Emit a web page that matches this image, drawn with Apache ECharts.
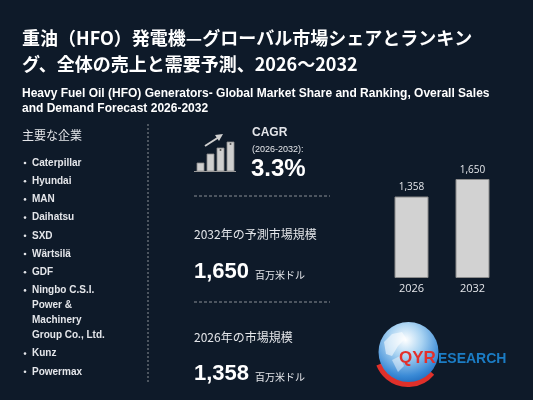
<!DOCTYPE html>
<html>
<head>
<meta charset="utf-8">
<script src="https://cdn.jsdelivr.net/npm/echarts@6/dist/echarts.min.js"></script>
<style>
  html, body { margin: 0; padding: 0; background: #0e1a29; }
  #chart { width: 533px; height: 400px; }
</style>
</head>
<body>
<div id="chart"></div>
<script>
const years = ["2026", "2032"];
const sales = [1358, 1650];
const companies = [
    ["Caterpillar"],
    ["Hyundai"],
    ["MAN"],
    ["Daihatsu"],
    ["SXD"],
    ["Wärtsilä"],
    ["GDF"],
    ["Ningbo C.S.I.", "Power &", "Machinery", "Group Co., Ltd."],
    ["Kunz"],
    ["Powermax"]
];
const cagr = "3.3%";
const cagrPeriod = "(2026-2032):";
const unit = "百万米ドル";

const titleJa = ["重油（HFO）発電機—グローバル市場シェアとランキン", "グ、全体の売上と需要予測、2026～2032"];
const titleEn = ["Heavy Fuel Oil (HFO) Generators- Global Market Share and Ranking, Overall Sales", "and Demand Forecast 2026-2032"];

const fmt = v => v.toLocaleString("en-US");
const jaFont = '"Noto Sans CJK JP", "Noto Sans", sans-serif';
const enFont = '"Liberation Sans", Arial, sans-serif';
const light = "#e4e6ea";

var chart = echarts.init(document.getElementById("chart"));

// 会社リスト
const listItems = [];
let y = 163;
companies.forEach(lines => {
    listItems.push({
        type: "circle", shape: { cx: 25, cy: y, r: 1.3 },
        style: { fill: light }
    });
    lines.forEach((line, i) => {
        listItems.push({
            type: "text", x: 32, y: y + i * 15,
            style: { text: line, fill: light, font: "bold 10px " + enFont, verticalAlign: "middle" }
        });
    });
    y += 18.2 + (lines.length - 1) * 15;
});

// CAGR アイコン
const iconBars = [[197, 163], [207, 154], [217, 148], [227, 142]];
const icon = iconBars.map(b => ({
    type: "rect", shape: { x: b[0], y: b[1], width: 7, height: 171 - b[1] },
    style: { fill: "#cfcfcf", stroke: "#8a8a8a", lineWidth: 0.8 }
}));
icon.push(
    { type: "line", shape: { x1: 194, y1: 171.5, x2: 236, y2: 171.5 }, style: { stroke: "#9a9a9a", lineWidth: 1.2 } },
    { type: "line", shape: { x1: 205, y1: 146, x2: 219, y2: 137 }, style: { stroke: "#cfcfcf", lineWidth: 2 } },
    { type: "polygon", shape: { points: [[223, 134], [215, 135], [219, 141]] }, style: { fill: "#cfcfcf" } },
    { type: "circle", shape: { cx: 220.5, cy: 150, r: 1 }, style: { fill: "#555" } },
    { type: "circle", shape: { cx: 230.5, cy: 144, r: 1 }, style: { fill: "#555" } }
);

const txt = (text, x, y, font, fill) => ({
    type: "text", x: x, y: y,
    style: { text: text, font: font, fill: fill || light, verticalAlign: "middle" }
});

const dash = (x1, y1, x2, y2, d) => ({
    type: "line", shape: { x1: x1, y1: y1, x2: x2, y2: y2 },
    style: { stroke: "#8a8f96", lineWidth: 1, lineDash: d }
});

chart.setOption({
    backgroundColor: "#0e1a29",
    animation: false,
    grid: { left: 381, right: 30, top: 179, bottom: 122 },
    xAxis: {
        type: "category",
        data: years,
        axisLine: { show: false },
        axisTick: { show: false },
        axisLabel: { color: light, fontSize: 11, fontFamily: "Open Sans", margin: 5 }
    },
    yAxis: { type: "value", min: 0, max: 1650, show: false },
    series: [{
        type: "bar",
        data: sales,
        barWidth: 34,
        itemStyle: { color: "#d2d2d2", borderColor: "#8c8c8c", borderWidth: 1 },
        label: {
            show: true, position: "top", distance: 4,
            color: light, fontSize: 10, fontFamily: "Open Sans",
            formatter: p => fmt(p.value)
        }
    }],
    graphic: [
        txt(titleJa[0], 22, 38, "bold 18px " + jaFont, "#ffffff"),
        txt(titleJa[1], 22, 64, "bold 18px " + jaFont, "#ffffff"),
        txt(titleEn[0], 22, 94, "bold 12px " + enFont, "#ffffff"),
        txt(titleEn[1], 22, 109, "bold 12px " + enFont, "#ffffff"),
        txt("主要な企業", 22, 135, "12px " + jaFont),
        Object.assign(dash(148, 124, 148, 384, [2, 2]), {}),
        ...listItems,
        ...icon,
        txt("CAGR", 252, 133, "bold 12px " + enFont),
        txt(cagrPeriod, 252, 150, "9px " + enFont),
        txt(cagr, 251, 169, "bold 24px " + enFont, "#ffffff"),
        dash(194, 196, 330, 196, [3, 2]),
        txt(years[1] + "年の予測市場規模", 194, 234, "12px " + jaFont),
        txt(fmt(sales[1]), 194, 272, "bold 22px " + enFont, "#ffffff"),
        txt(unit, 255, 275, "10px " + jaFont),
        dash(194, 302, 330, 302, [3, 2]),
        txt(years[0] + "年の市場規模", 194, 337, "12px " + jaFont),
        txt(fmt(sales[0]), 194, 374, "bold 22px " + enFont, "#ffffff"),
        txt(unit, 255, 377, "10px " + jaFont),
        // ロゴ
        { type: "arc", shape: { cx: 408, cy: 353, r: 31, startAngle: Math.PI * 0.22, endAngle: Math.PI * 0.88 },
          style: { stroke: "#e0302a", lineWidth: 6, fill: null } },
        { type: "circle", shape: { cx: 408.5, cy: 352, r: 30 },
          style: { fill: { type: "radial", x: 0.45, y: 0.3, r: 0.8,
              colorStops: [{ offset: 0, color: "#ffffff" }, { offset: 0.35, color: "#a9d3f2" },
                           { offset: 0.75, color: "#3a8ad6" }, { offset: 1, color: "#1660b2" }] } } },
        { type: "polygon", shape: { points: [[384, 342], [392, 334], [402, 332], [406, 338], [398, 346], [392, 356], [386, 354]] },
          style: { fill: "#ffffff", opacity: 0.55 } },
        { type: "polygon", shape: { points: [[392, 360], [400, 356], [404, 366], [398, 372]] },
          style: { fill: "#ffffff", opacity: 0.45 } },
        txt("QYR", 399, 358, "bold 17px " + enFont, "#e3302b"),
        txt("ESEARCH", 438, 359, "bold 14px " + enFont, "#1b7cc4")
    ]
});

window.addEventListener("resize", () => {
    if (chart) chart.resize();
});
</script>
</body>
</html>
